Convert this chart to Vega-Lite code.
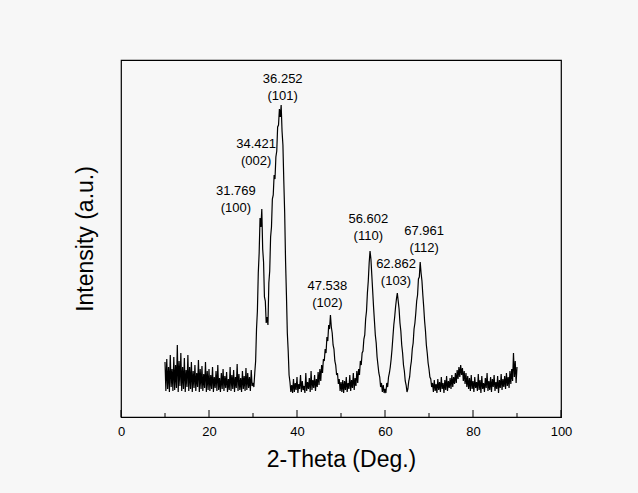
{
  "$schema": "https://vega.github.io/schema/vega-lite/v6.json",
  "width": 440,
  "height": 357,
  "autosize": "none",
  "padding": {"left": 121, "top": 60, "right": 77, "bottom": 76},
  "background": "#f7f7f7",
  "config": {
    "font": "Liberation Sans",
    "view": {"stroke": "black", "strokeWidth": 1.2},
    "axis": {"grid": false, "labelColor": "black", "titleColor": "black", "domainColor": "black", "titleFontWeight": "normal"}
  },
  "datasets": {
    "xrd": [
      {"x":10,"y":55},{"x":10.2,"y":26},{"x":10.4,"y":58},{"x":10.6,"y":28},{"x":10.8,"y":50},{"x":11,"y":25},{"x":11.2,"y":62},{"x":11.4,"y":30},{"x":11.6,"y":48},{"x":11.8,"y":26},
      {"x":12,"y":60},{"x":12.2,"y":27},{"x":12.4,"y":52},{"x":12.6,"y":29},{"x":12.8,"y":72},{"x":13,"y":25},{"x":13.2,"y":56},{"x":13.4,"y":31},{"x":13.6,"y":64},{"x":13.8,"y":26},
      {"x":14,"y":50},{"x":14.2,"y":28},{"x":14.4,"y":59},{"x":14.6,"y":25},{"x":14.8,"y":47},{"x":15,"y":30},{"x":15.2,"y":62},{"x":15.4,"y":26},{"x":15.6,"y":50},{"x":15.8,"y":28},
      {"x":16,"y":55},{"x":16.2,"y":25},{"x":16.4,"y":46},{"x":16.6,"y":29},{"x":16.8,"y":52},{"x":17,"y":26},{"x":17.2,"y":44},{"x":17.4,"y":30},{"x":17.6,"y":57},{"x":17.8,"y":25},
      {"x":18,"y":48},{"x":18.2,"y":28},{"x":18.4,"y":51},{"x":18.6,"y":26},{"x":18.8,"y":43},{"x":19,"y":29},{"x":19.2,"y":55},{"x":19.4,"y":25},{"x":19.6,"y":46},{"x":19.8,"y":27},
      {"x":20,"y":48},{"x":20.2,"y":26},{"x":20.4,"y":42},{"x":20.6,"y":28},{"x":20.8,"y":50},{"x":21,"y":25},{"x":21.2,"y":40},{"x":21.4,"y":29},{"x":21.6,"y":46},{"x":21.8,"y":26},
      {"x":22,"y":52},{"x":22.2,"y":27},{"x":22.4,"y":39},{"x":22.6,"y":25},{"x":22.8,"y":44},{"x":23,"y":28},{"x":23.2,"y":48},{"x":23.4,"y":26},{"x":23.6,"y":41},{"x":23.8,"y":29},
      {"x":24,"y":45},{"x":24.2,"y":25},{"x":24.4,"y":38},{"x":24.6,"y":27},{"x":24.8,"y":50},{"x":25,"y":26},{"x":25.2,"y":42},{"x":25.4,"y":28},{"x":25.6,"y":47},{"x":25.8,"y":25},
      {"x":26,"y":40},{"x":26.2,"y":29},{"x":26.4,"y":53},{"x":26.6,"y":26},{"x":26.8,"y":43},{"x":27,"y":27},{"x":27.2,"y":39},{"x":27.4,"y":25},{"x":27.6,"y":46},{"x":27.8,"y":28},
      {"x":28,"y":41},{"x":28.2,"y":26},{"x":28.4,"y":49},{"x":28.6,"y":27},{"x":28.8,"y":44},{"x":29,"y":29},{"x":29.2,"y":40},{"x":29.4,"y":26},{"x":29.6,"y":47},{"x":29.8,"y":31},
      {"x":30,"y":34},{"x":30.2,"y":30},{"x":30.4,"y":44},{"x":30.6,"y":56},{"x":30.8,"y":88},{"x":31,"y":106},{"x":31.2,"y":144},{"x":31.4,"y":164},{"x":31.6,"y":199},{"x":31.8,"y":190},
      {"x":32,"y":208},{"x":32.2,"y":168},{"x":32.4,"y":155},{"x":32.6,"y":120},{"x":32.8,"y":116},{"x":33,"y":94},{"x":33.2,"y":100},{"x":33.4,"y":92},{"x":33.6,"y":134},{"x":33.8,"y":146},
      {"x":34,"y":180},{"x":34.2,"y":190},{"x":34.4,"y":218},{"x":34.6,"y":222},{"x":34.8,"y":242},{"x":35,"y":238},{"x":35.2,"y":260},{"x":35.4,"y":266},{"x":35.6,"y":290},{"x":35.8,"y":292},
      {"x":36,"y":308},{"x":36.2,"y":300},{"x":36.4,"y":312},{"x":36.6,"y":286},{"x":36.8,"y":272},{"x":37,"y":236},{"x":37.2,"y":204},{"x":37.4,"y":156},{"x":37.6,"y":122},{"x":37.8,"y":84},
      {"x":38,"y":66},{"x":38.2,"y":42},{"x":38.4,"y":35},{"x":38.6,"y":25},{"x":38.8,"y":32},{"x":39,"y":24},{"x":39.2,"y":38},{"x":39.4,"y":25},{"x":39.6,"y":34},{"x":39.8,"y":27},
      {"x":40,"y":40},{"x":40.2,"y":24},{"x":40.4,"y":33},{"x":40.6,"y":28},{"x":40.8,"y":42},{"x":41,"y":25},{"x":41.2,"y":36},{"x":41.4,"y":27},{"x":41.6,"y":31},{"x":41.8,"y":24},
      {"x":42,"y":44},{"x":42.2,"y":26},{"x":42.4,"y":35},{"x":42.6,"y":28},{"x":42.8,"y":39},{"x":43,"y":25},{"x":43.2,"y":46},{"x":43.4,"y":27},{"x":43.6,"y":37},{"x":43.8,"y":29},
      {"x":44,"y":42},{"x":44.2,"y":26},{"x":44.4,"y":38},{"x":44.6,"y":30},{"x":44.8,"y":45},{"x":45,"y":32},{"x":45.2,"y":48},{"x":45.4,"y":36},{"x":45.6,"y":52},{"x":45.8,"y":44},
      {"x":46,"y":58},{"x":46.2,"y":56},{"x":46.4,"y":68},{"x":46.6,"y":64},{"x":46.8,"y":80},{"x":47,"y":76},{"x":47.2,"y":92},{"x":47.4,"y":88},{"x":47.6,"y":102},{"x":47.8,"y":90},
      {"x":48,"y":84},{"x":48.2,"y":72},{"x":48.4,"y":68},{"x":48.6,"y":56},{"x":48.8,"y":52},{"x":49,"y":42},{"x":49.2,"y":44},{"x":49.4,"y":33},{"x":49.6,"y":38},{"x":49.8,"y":26},
      {"x":50,"y":35},{"x":50.2,"y":25},{"x":50.4,"y":37},{"x":50.6,"y":24},{"x":50.8,"y":36},{"x":51,"y":27},{"x":51.2,"y":40},{"x":51.4,"y":25},{"x":51.6,"y":34},{"x":51.8,"y":28},
      {"x":52,"y":42},{"x":52.2,"y":26},{"x":52.4,"y":37},{"x":52.6,"y":29},{"x":52.8,"y":44},{"x":53,"y":27},{"x":53.2,"y":39},{"x":53.4,"y":31},{"x":53.6,"y":46},{"x":53.8,"y":34},
      {"x":54,"y":48},{"x":54.2,"y":42},{"x":54.4,"y":56},{"x":54.6,"y":52},{"x":54.8,"y":64},{"x":55,"y":66},{"x":55.2,"y":78},{"x":55.4,"y":82},{"x":55.6,"y":98},{"x":55.8,"y":106},
      {"x":56,"y":124},{"x":56.2,"y":136},{"x":56.4,"y":154},{"x":56.6,"y":166},{"x":56.8,"y":158},{"x":57,"y":142},{"x":57.2,"y":126},{"x":57.4,"y":110},{"x":57.6,"y":96},{"x":57.8,"y":82},
      {"x":58,"y":74},{"x":58.2,"y":60},{"x":58.4,"y":52},{"x":58.6,"y":44},{"x":58.8,"y":40},{"x":59,"y":30},{"x":59.2,"y":34},{"x":59.4,"y":25},{"x":59.6,"y":32},{"x":59.8,"y":24},
      {"x":60,"y":28},{"x":60.2,"y":24},{"x":60.4,"y":34},{"x":60.6,"y":30},{"x":60.8,"y":40},{"x":61,"y":44},{"x":61.2,"y":50},{"x":61.4,"y":58},{"x":61.6,"y":68},{"x":61.8,"y":80},
      {"x":62,"y":92},{"x":62.2,"y":100},{"x":62.4,"y":110},{"x":62.6,"y":118},{"x":62.8,"y":124},{"x":63,"y":116},{"x":63.2,"y":108},{"x":63.4,"y":94},{"x":63.6,"y":86},{"x":63.8,"y":72},
      {"x":64,"y":64},{"x":64.2,"y":52},{"x":64.4,"y":46},{"x":64.6,"y":36},{"x":64.8,"y":32},{"x":65,"y":25},{"x":65.2,"y":28},{"x":65.4,"y":36},{"x":65.6,"y":40},{"x":65.8,"y":50},
      {"x":66,"y":56},{"x":66.2,"y":68},{"x":66.4,"y":74},{"x":66.6,"y":88},{"x":66.8,"y":94},{"x":67,"y":104},{"x":67.2,"y":116},{"x":67.4,"y":122},{"x":67.6,"y":138},{"x":67.8,"y":140},
      {"x":68,"y":155},{"x":68.2,"y":144},{"x":68.4,"y":136},{"x":68.6,"y":122},{"x":68.8,"y":110},{"x":69,"y":96},{"x":69.2,"y":86},{"x":69.4,"y":72},{"x":69.6,"y":64},{"x":69.8,"y":54},
      {"x":70,"y":48},{"x":70.2,"y":40},{"x":70.4,"y":38},{"x":70.6,"y":30},{"x":70.8,"y":34},{"x":71,"y":25},{"x":71.2,"y":37},{"x":71.4,"y":26},{"x":71.6,"y":33},{"x":71.8,"y":24},
      {"x":72,"y":38},{"x":72.2,"y":27},{"x":72.4,"y":35},{"x":72.6,"y":25},{"x":72.8,"y":40},{"x":73,"y":28},{"x":73.2,"y":34},{"x":73.4,"y":24},{"x":73.6,"y":37},{"x":73.8,"y":27},
      {"x":74,"y":41},{"x":74.2,"y":26},{"x":74.4,"y":36},{"x":74.6,"y":29},{"x":74.8,"y":39},{"x":75,"y":28},{"x":75.2,"y":42},{"x":75.4,"y":30},{"x":75.6,"y":40},{"x":75.8,"y":33},
      {"x":76,"y":44},{"x":76.2,"y":34},{"x":76.4,"y":47},{"x":76.6,"y":38},{"x":76.8,"y":50},{"x":77,"y":40},{"x":77.2,"y":52},{"x":77.4,"y":42},{"x":77.6,"y":49},{"x":77.8,"y":36},
      {"x":78,"y":46},{"x":78.2,"y":33},{"x":78.4,"y":44},{"x":78.6,"y":30},{"x":78.8,"y":41},{"x":79,"y":28},{"x":79.2,"y":39},{"x":79.4,"y":26},{"x":79.6,"y":42},{"x":79.8,"y":28},
      {"x":80,"y":36},{"x":80.2,"y":25},{"x":80.4,"y":40},{"x":80.6,"y":29},{"x":80.8,"y":35},{"x":81,"y":26},{"x":81.2,"y":43},{"x":81.4,"y":27},{"x":81.6,"y":37},{"x":81.8,"y":24},
      {"x":82,"y":41},{"x":82.2,"y":28},{"x":82.4,"y":34},{"x":82.6,"y":25},{"x":82.8,"y":39},{"x":83,"y":29},{"x":83.2,"y":44},{"x":83.4,"y":26},{"x":83.6,"y":36},{"x":83.8,"y":27},
      {"x":84,"y":40},{"x":84.2,"y":25},{"x":84.4,"y":38},{"x":84.6,"y":30},{"x":84.8,"y":42},{"x":85,"y":26},{"x":85.2,"y":35},{"x":85.4,"y":28},{"x":85.6,"y":41},{"x":85.8,"y":24},
      {"x":86,"y":37},{"x":86.2,"y":29},{"x":86.4,"y":43},{"x":86.6,"y":27},{"x":86.8,"y":38},{"x":87,"y":30},{"x":87.2,"y":41},{"x":87.4,"y":28},{"x":87.6,"y":44},{"x":87.8,"y":31},
      {"x":88,"y":40},{"x":88.2,"y":29},{"x":88.4,"y":46},{"x":88.6,"y":33},{"x":88.8,"y":48},{"x":89,"y":36},{"x":89.2,"y":64},{"x":89.4,"y":40},{"x":89.6,"y":56},{"x":89.8,"y":34},
      {"x":90,"y":50}
    ],
    "peaks": [
      {"x":36.75,"y":338,"t":"36.252"},{"x":36.75,"y":321,"t":"(101)"},
      {"x":30.7,"y":273,"t":"34.421"},{"x":30.7,"y":256,"t":"(002)"},
      {"x":26.1,"y":226,"t":"31.769"},{"x":26.1,"y":209,"t":"(100)"},
      {"x":46.9,"y":131,"t":"47.538"},{"x":46.9,"y":114,"t":"(102)"},
      {"x":56.2,"y":198,"t":"56.602"},{"x":56.2,"y":181,"t":"(110)"},
      {"x":62.5,"y":153,"t":"62.862"},{"x":62.5,"y":136,"t":"(103)"},
      {"x":68.9,"y":186,"t":"67.961"},{"x":68.9,"y":169,"t":"(112)"}
    ],
    "major": [{"x":0},{"x":20},{"x":40},{"x":60},{"x":80},{"x":100}],
    "minor": [{"x":10},{"x":30},{"x":50},{"x":70},{"x":90}]
  },
  "layer": [
    {
      "data": {"name": "xrd"},
      "mark": {"type": "line", "color": "black", "strokeWidth": 1.2, "clip": true},
      "encoding": {
        "x": {
          "field": "x", "type": "quantitative",
          "scale": {"domain": [0, 100], "nice": false, "zero": false},
          "axis": {
            "values": [0, 20, 40, 60, 80, 100],
            "ticks": false,
            "labelFlush": false,
            "labelFontSize": 13,
            "labelPadding": 8,
            "title": "2-Theta (Deg.)",
            "titleFontSize": 23,
            "titlePadding": 10
          }
        },
        "y": {
          "field": "y", "type": "quantitative",
          "scale": {"domain": [0, 357], "nice": false},
          "axis": {
            "ticks": false,
            "labels": false,
            "domain": false,
            "title": "Intensity (a.u.)",
            "titleFontSize": 23,
            "titlePadding": 24
          }
        }
      }
    },
    {
      "data": {"name": "major"},
      "mark": {"type": "rule", "color": "black", "strokeWidth": 1},
      "encoding": {
        "x": {"field": "x", "type": "quantitative"},
        "y": {"datum": 0},
        "y2": {"datum": 7}
      }
    },
    {
      "data": {"name": "minor"},
      "mark": {"type": "rule", "color": "black", "strokeWidth": 1},
      "encoding": {
        "x": {"field": "x", "type": "quantitative"},
        "y": {"datum": 0},
        "y2": {"datum": 4}
      }
    },
    {
      "data": {"name": "peaks"},
      "mark": {"type": "text", "fontSize": 13, "color": "black", "align": "center", "baseline": "middle"},
      "encoding": {
        "x": {"field": "x", "type": "quantitative"},
        "y": {"field": "y", "type": "quantitative"},
        "text": {"field": "t"}
      }
    }
  ]
}
